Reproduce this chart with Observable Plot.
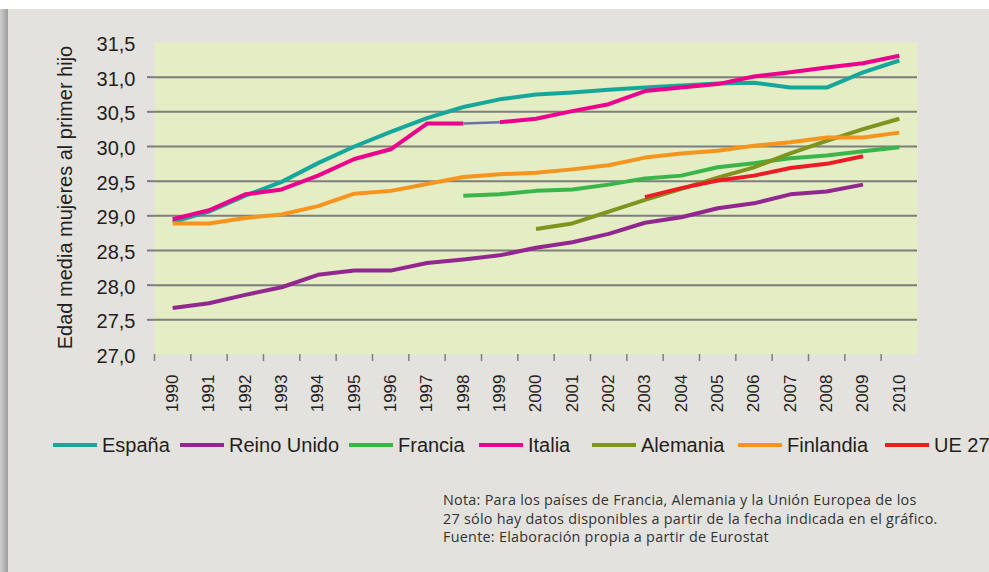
<!DOCTYPE html>
<html>
<head>
<meta charset="utf-8">
<script src="https://cdn.jsdelivr.net/npm/d3@7"></script>
<script src="https://cdn.jsdelivr.net/npm/@observablehq/plot@0.6"></script>
<style>
  html, body { margin: 0; padding: 0; }
  body { width: 989px; height: 572px; position: relative; overflow: hidden; background: #ffffff; font-family: "Liberation Sans", Arial, sans-serif; }
  #panel { position: absolute; left: 8px; top: 9px; width: 990px; height: 570px; background: #e3e2de; }
  #shade { position: absolute; left: 0; top: 9px; width: 8px; height: 570px; background: linear-gradient(to right, #cfcfcf, #9c9c9c); }
  #chart { position: absolute; left: 0; top: 0; }
  #legend { position: absolute; left: 0; top: 432px; width: 989px; height: 26px; }
  .item { position: absolute; top: 0; display: flex; align-items: center; height: 26px; font-size: 20px; color: #231f20; white-space: nowrap; }
  .sw { width: 44px; height: 4px; margin-right: 5px; }
  #note { position: absolute; left: 443px; top: 491px; font-family: "Open Sans", sans-serif; font-size: 14.4px; letter-spacing: 0.25px; line-height: 18.7px; color: #333; white-space: nowrap; }
</style>
</head>
<body>
<div id="panel"></div>
<div id="shade"></div>
<div id="chart"></div>
<div id="legend"></div>
<div id="note">Nota: Para los países de Francia, Alemania y la Unión Europea de los<br>27 sólo hay datos disponibles a partir de la fecha indicada en el gráfico.<br>Fuente: Elaboración propia a partir de Eurostat</div>
<script>
// ---- Data ----
const years = [1990,1991,1992,1993,1994,1995,1996,1997,1998,1999,2000,2001,2002,2003,2004,2005,2006,2007,2008,2009,2010];
const series = ["España","Reino Unido","Francia","Italia","Alemania","Finlandia","UE 27"];
const colors = ["#16a79b","#92278f","#39b54a","#ec008c","#7d951e","#f7941d","#ed1c24"];

const espana     = [28.91,29.06,29.29,29.49,29.76,30.00,30.21,30.41,30.57,30.68,30.75,30.78,30.82,30.85,30.88,30.91,30.92,30.85,30.85,31.07,31.24];
const reinoUnido = [27.67,27.74,27.86,27.97,28.15,28.21,28.21,28.32,28.37,28.43,28.54,28.62,28.74,28.90,28.98,29.11,29.18,29.31,29.35,29.45,null];
const francia    = [null,null,null,null,null,null,null,null,29.29,29.31,29.36,29.38,29.45,29.54,29.58,29.70,29.76,29.83,29.87,29.93,29.99];
const italia     = [28.95,29.08,29.31,29.38,29.58,29.82,29.96,30.33,30.33,30.35,30.40,30.51,30.61,30.80,30.85,30.90,31.01,31.07,31.14,31.20,31.31];
const alemania   = [null,null,null,null,null,null,null,null,null,null,28.81,28.89,29.06,29.23,29.39,29.55,29.70,29.90,30.08,30.25,30.40];
const finlandia  = [28.89,28.89,28.97,29.02,29.14,29.32,29.36,29.46,29.56,29.60,29.62,29.67,29.73,29.84,29.90,29.94,30.01,30.06,30.13,30.13,30.20];
const ue27       = [null,null,null,null,null,null,null,null,null,null,null,null,null,29.27,29.40,29.51,29.58,29.69,29.75,29.86,null];

// Italia: tramo 1998-1999 dibujado en otro color en el original
const italiaTramo = [1998, 1999];

const yTickLabels = [27.0,27.5,28.0,28.5,29.0,29.5,30.0,30.5,31.0,31.5];
const yGrid = [27.5,28.0,28.5,29.0,29.5,30.0,30.5,31.0];
const yTitle = "Edad media mujeres al primer hijo";

// ---- Build tidy table ----
const valuesBySerie = [espana, reinoUnido, francia, italia, alemania, finlandia, ue27];
const tidy = [];
series.forEach((s, i) => {
  years.forEach((yr, j) => {
    const v = valuesBySerie[i][j];
    if (v == null) return;
    let key = s;
    if (s === "Italia") key = yr <= italiaTramo[0] ? "Italia-a" : "Italia-b";
    tidy.push({serie: s, key, year: yr, value: v});
  });
});
const tramo = [{
  x1: italiaTramo[0], y1: italia[years.indexOf(italiaTramo[0])],
  x2: italiaTramo[1], y2: italia[years.indexOf(italiaTramo[1])]
}];
const tickEdges = years.map(y => y - 0.5);

const chart = Plot.plot({
  width: 989,
  height: 420,
  marginLeft: 154,
  marginRight: 72,
  marginTop: 42,
  marginBottom: 66,
  style: {background: "transparent", fontFamily: "'Liberation Sans', Arial, sans-serif", color: "#231f20", overflow: "visible"},
  x: {type: "linear", domain: [years[0] - 0.5, years[years.length - 1] + 0.5]},
  y: {domain: [27, 31.5]},
  color: {domain: series, range: colors},
  marks: [
    Plot.frame({fill: "#e4edc3", stroke: "none"}),
    Plot.ruleY(yGrid, {stroke: "#7e7e7e", strokeWidth: 2}),
    Plot.axisY({ticks: yGrid, tickSize: 7, tickFormat: () => "", stroke: "#7e7e7e", strokeWidth: 2, label: null}),
    Plot.axisY({ticks: yTickLabels, tickSize: 0, tickPadding: 19, tickFormat: d => d.toFixed(1).replace(".", ","), fontSize: 20, fill: "#231f20", dy: 2, label: null}),
    Plot.axisX({ticks: tickEdges, tickSize: 7, tickFormat: () => "", stroke: "#7e7e7e", strokeWidth: 1.5, label: null}),
    Plot.axisX({ticks: years, tickSize: 0, tickPadding: 20, tickRotate: -90, tickFormat: d => String(d), fontSize: 17, fill: "#231f20", label: null}),
    Plot.text([yTitle], {frameAnchor: "left", text: d => d, textAnchor: "middle", lineAnchor: "middle", rotate: -90, dx: -89, dy: -1, fontSize: 20, fill: "#231f20"}),
    Plot.line(tidy, {x: "year", y: "value", z: "key", stroke: "serie", strokeWidth: 4, strokeLinecap: "butt", strokeLinejoin: "round"}),
    Plot.link(tramo, {x1: "x1", y1: "y1", x2: "x2", y2: "y2", stroke: "#6b72a8", strokeWidth: 2.5})
  ]
});
document.getElementById("chart").appendChild(chart);

// ---- Legend (HTML) ----
const legendX = [53, 180, 349, 479, 592, 738, 885];
const legend = document.getElementById("legend");
series.forEach((s, i) => {
  const it = document.createElement("div");
  it.className = "item";
  it.style.left = legendX[i] + "px";
  const sw = document.createElement("span");
  sw.className = "sw";
  sw.style.background = colors[i];
  const t = document.createElement("span");
  t.textContent = s;
  it.appendChild(sw);
  it.appendChild(t);
  legend.appendChild(it);
});
</script>
</body>
</html>
